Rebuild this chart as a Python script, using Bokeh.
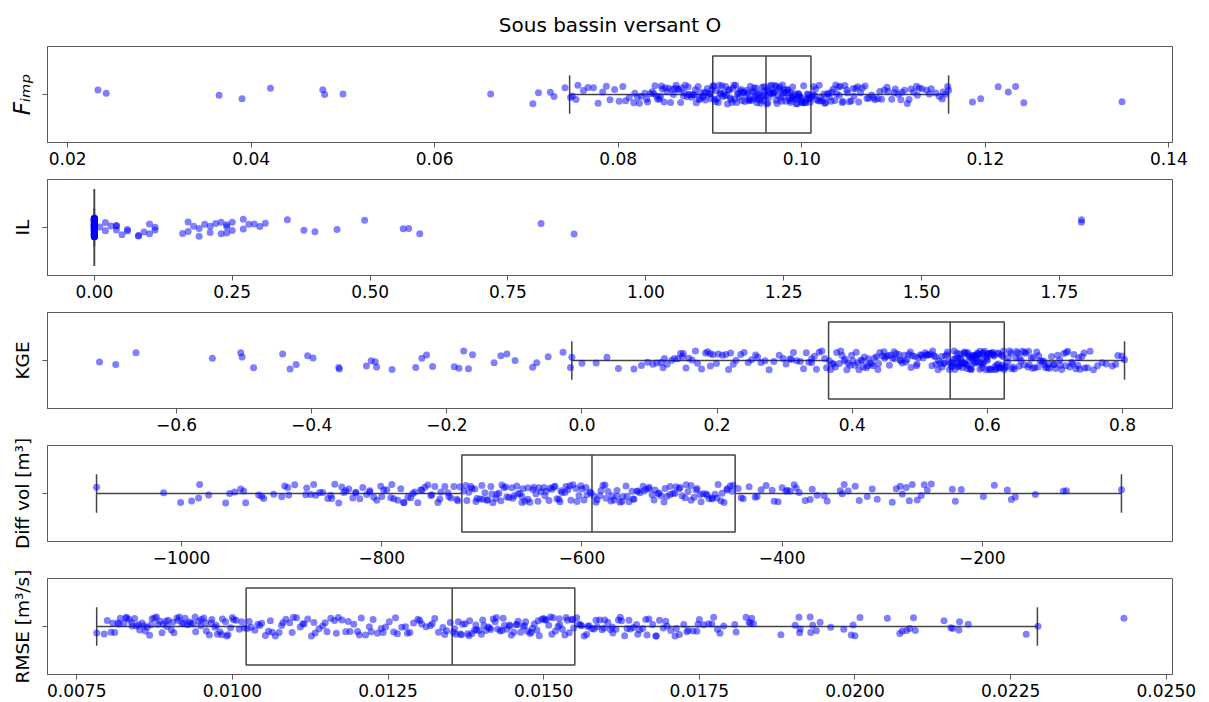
import math
from bokeh.plotting import figure
from bokeh.layouts import column
from bokeh.models import Range1d, FixedTicker, CustomJSTickFormatter, ColumnDataSource
from bokeh.embed import file_html
from bokeh.resources import INLINE

# ---------------- data ----------------
title_text = "Sous bassin versant O"
panel_labels = ["Fᵢₘₚ", "IL", "KGE", "Diff vol [m³]", "RMSE [m³/s]"]

f_imp = [
    0.0233, 0.0242, 0.0365, 0.0390, 0.0421, 0.0478, 0.0480, 0.0500, 0.0661, 0.0707, 0.0713, 0.0726, 0.0730, 0.0742,
    0.0748, 0.0750, 0.0754, 0.0756, 0.0762, 0.0767, 0.0773, 0.0778, 0.0783, 0.0787, 0.0791, 0.0796, 0.0801, 0.0805,
    0.0808, 0.0812, 0.0818, 0.0821, 0.0825, 0.0829, 0.0832, 0.0837, 0.0840, 0.0843, 0.0845, 0.0848, 0.0851, 0.0853,
    0.0857, 0.0860, 0.0862, 0.0866, 0.0868, 0.0871, 0.0873, 0.0876, 0.0878, 0.0880, 0.0883, 0.0885, 0.0887, 0.0889,
    0.0892, 0.0894, 0.0896, 0.0899, 0.0901,
    0.0903, 0.0904, 0.0906, 0.0907, 0.0909, 0.0910, 0.0912, 0.0914, 0.0915, 0.0916, 0.0918, 0.0919, 0.0921, 0.0922,
    0.0923, 0.0925, 0.0926, 0.0927, 0.0929, 0.0930, 0.0932, 0.0933, 0.0934, 0.0936, 0.0937, 0.0938, 0.0939, 0.0941,
    0.0942, 0.0943, 0.0944, 0.0946, 0.0947, 0.0948, 0.0949, 0.0950, 0.0951, 0.0952, 0.0954, 0.0955, 0.0956, 0.0957,
    0.0958, 0.0959, 0.0960,
    0.0962, 0.0963, 0.0964, 0.0965, 0.0966, 0.0968, 0.0969, 0.0970, 0.0971, 0.0972, 0.0973, 0.0975, 0.0976, 0.0977,
    0.0978, 0.0979, 0.0980, 0.0981, 0.0982, 0.0984, 0.0985, 0.0986, 0.0987, 0.0988, 0.0989, 0.0990, 0.0991, 0.0993,
    0.0994, 0.0995, 0.0996, 0.0997, 0.0998, 0.0999, 0.1000, 0.1001, 0.1002, 0.1004, 0.1005, 0.1006, 0.1007, 0.1008,
    0.1009,
    0.1011, 0.1013, 0.1014, 0.1016, 0.1018, 0.1019, 0.1021, 0.1023, 0.1024, 0.1026, 0.1028, 0.1030, 0.1032, 0.1034,
    0.1036, 0.1038, 0.1040, 0.1042, 0.1045, 0.1047, 0.1049, 0.1052, 0.1054, 0.1057, 0.1059, 0.1062, 0.1066, 0.1069,
    0.1073, 0.1076, 0.1080, 0.1083, 0.1087, 0.1090, 0.1094, 0.1098, 0.1102, 0.1105, 0.1109, 0.1112, 0.1115, 0.1119,
    0.1122, 0.1125, 0.1128, 0.1131, 0.1136, 0.1141, 0.1146, 0.1150, 0.1154, 0.1157, 0.1159, 0.1160,
    0.1186, 0.1195, 0.1214, 0.1225, 0.1233, 0.1242, 0.1349,
]
f_imp_more = [
    0.0817, 0.0823, 0.0831, 0.0835, 0.0839, 0.0842, 0.0846, 0.0847, 0.0850, 0.0855, 0.0859, 0.0863, 0.0865, 0.0869,
    0.0872, 0.0875, 0.0877, 0.0882, 0.0884, 0.0888, 0.0890, 0.0893, 0.0895, 0.0897, 0.0900, 0.0902, 0.0905, 0.0908,
    0.0911, 0.0913, 0.0917, 0.0920, 0.0924, 0.0928, 0.0931, 0.0935, 0.0940, 0.0943, 0.0945, 0.0948, 0.0951, 0.0953,
    0.0955, 0.0958, 0.0961, 0.0962, 0.0964, 0.0967, 0.0969, 0.0972, 0.0974, 0.0977, 0.0980, 0.0983, 0.0985, 0.0988,
    0.0990, 0.0992, 0.0995, 0.0997, 0.1000, 0.1003, 0.1006, 0.1009, 0.1012, 0.1015, 0.1020, 0.1025, 0.1029, 0.1033,
    0.1037, 0.1041, 0.1044, 0.1050, 0.1056, 0.1061, 0.1064, 0.1071, 0.1078, 0.1085, 0.1093, 0.1101, 0.1108, 0.1117,
    0.1126, 0.1139, 0.1153,
]

il_values = [0.0] * 120 + [
    0.01, 0.02, 0.02, 0.03, 0.04, 0.04, 0.04, 0.05, 0.06, 0.06, 0.08, 0.08, 0.09, 0.10, 0.10, 0.11, 0.11,
    0.16, 0.17, 0.17, 0.18, 0.19, 0.19, 0.20, 0.21, 0.21, 0.22, 0.23, 0.23, 0.24, 0.24, 0.24, 0.25, 0.25,
    0.27, 0.27, 0.28, 0.29, 0.30, 0.31, 0.35, 0.38, 0.40, 0.44, 0.49, 0.56, 0.57, 0.59, 0.81, 0.87, 1.79, 1.79,
]

kge = [
    -0.714, -0.690, -0.660, -0.547, -0.505, -0.503, -0.486, -0.443, -0.432, -0.423, -0.406, -0.398, -0.360, -0.359,
    -0.319, -0.312, -0.306, -0.304, -0.281, -0.246, -0.237, -0.230, -0.221, -0.189, -0.182, -0.175, -0.168, -0.162,
    -0.130, -0.120, -0.111, -0.099, -0.073, -0.067, -0.050, -0.028, -0.017,
    -0.015, 0.000, 0.021, 0.037, 0.054, 0.077, 0.088, 0.097, 0.105, 0.111, 0.117, 0.122, 0.126, 0.133, 0.137, 0.142,
    0.146, 0.149, 0.154, 0.158, 0.163, 0.168, 0.171, 0.177, 0.183, 0.186, 0.190, 0.194, 0.199, 0.202, 0.208, 0.213,
    0.217, 0.224, 0.228, 0.235, 0.240, 0.246, 0.251, 0.257, 0.265, 0.271, 0.277, 0.284, 0.292, 0.298, 0.302, 0.308,
    0.313, 0.318, 0.323, 0.328, 0.332, 0.336, 0.340, 0.344, 0.347, 0.351, 0.355, 0.359, 0.362,
    0.366, 0.368, 0.371, 0.375, 0.377, 0.381, 0.385, 0.388, 0.390, 0.394, 0.397, 0.401, 0.404, 0.406, 0.410, 0.413,
    0.415, 0.418, 0.421, 0.424, 0.426, 0.429, 0.433, 0.436, 0.438, 0.441, 0.445, 0.448, 0.450, 0.453, 0.457, 0.460,
    0.462, 0.465, 0.469, 0.472, 0.474, 0.477, 0.481, 0.484, 0.486, 0.489, 0.493, 0.496, 0.498, 0.501, 0.505, 0.508,
    0.510, 0.513, 0.516, 0.519, 0.521, 0.524, 0.527, 0.530, 0.532, 0.535, 0.538, 0.540, 0.543,
    0.546, 0.547, 0.549, 0.550, 0.551, 0.553, 0.554, 0.556, 0.557, 0.558, 0.559, 0.561, 0.562, 0.563, 0.565, 0.566,
    0.567, 0.568, 0.570, 0.571, 0.572, 0.574, 0.575, 0.576, 0.577, 0.579, 0.580, 0.581, 0.582, 0.584, 0.585, 0.586,
    0.588, 0.589, 0.590, 0.591, 0.593, 0.594, 0.595, 0.596, 0.598, 0.599, 0.600, 0.602, 0.603, 0.604, 0.606, 0.607,
    0.608, 0.610, 0.611, 0.613, 0.614, 0.616, 0.617, 0.619, 0.620, 0.622, 0.623, 0.624,
    0.626, 0.628, 0.631, 0.633, 0.635, 0.638, 0.640, 0.643, 0.645, 0.647, 0.650, 0.652, 0.655, 0.657, 0.660, 0.662,
    0.665, 0.667, 0.670, 0.673, 0.675, 0.678, 0.681, 0.684, 0.686, 0.689, 0.692, 0.695, 0.698, 0.701, 0.704, 0.707,
    0.710, 0.713, 0.716, 0.719, 0.722, 0.725, 0.728, 0.731, 0.734, 0.737, 0.740, 0.744, 0.748, 0.752, 0.757, 0.763,
    0.770, 0.776, 0.785, 0.790, 0.793, 0.799, 0.803,
]
kge_more = [
    0.372, 0.383, 0.392, 0.399, 0.408, 0.416, 0.423, 0.431, 0.439, 0.447, 0.455, 0.463, 0.471, 0.479, 0.487, 0.495,
    0.503, 0.511, 0.518, 0.523, 0.528, 0.533, 0.537, 0.541, 0.544, 0.548, 0.552, 0.555, 0.558, 0.560, 0.563, 0.566,
    0.569, 0.571, 0.573, 0.576, 0.578, 0.580, 0.583, 0.585, 0.587, 0.589, 0.592, 0.594, 0.596, 0.599, 0.601, 0.604,
    0.606, 0.609, 0.612, 0.615, 0.618, 0.621, 0.625, 0.630, 0.636, 0.642, 0.648, 0.654, 0.661, 0.668, 0.676, 0.683,
    0.691, 0.699, 0.708, 0.717, 0.726, 0.735, 0.743, 0.120, 0.150, 0.190, 0.220, 0.260, 0.310, 0.340,
]

diff_vol = [
    -1085, -1018, -1001, -990, -983, -982, -973, -956, -952, -947, -941, -938, -936, -923, -920, -918, -908, -900,
    -897, -894, -893, -887, -876, -875, -871, -868, -866, -862, -859, -854, -851, -847, -843, -840, -836, -833, -829,
    -826, -822, -819, -815, -812, -808, -805, -801, -798, -795, -791, -788, -784, -781, -778, -774, -771, -767, -764,
    -761, -757, -754, -750, -747, -744, -741, -737, -734, -731, -728, -725, -722,
    -718, -715, -713, -710, -707, -705, -702, -699, -697, -694, -691, -689, -686, -683, -681, -678, -676, -673, -670,
    -668, -665, -662, -660, -657, -654, -652, -649, -646, -644, -641, -638, -636, -633, -630, -628, -625, -622, -620,
    -617, -614, -612, -609, -606, -603, -601, -598, -595, -592,
    -588, -585, -582, -579, -577, -574, -571, -568, -565, -562, -559, -556, -553, -550, -548, -545, -542, -539, -536,
    -533, -530, -527, -524, -521, -518, -515, -512, -509, -506, -503, -500, -497, -494, -491, -488, -485, -482, -479,
    -476, -473, -470, -467, -464, -461, -458, -455, -452, -449,
    -444, -439, -433, -427, -421, -416, -410, -404, -400, -396, -392, -388, -383, -377, -370, -365, -358, -342, -338,
    -334, -327, -323, -315, -305, -290, -282, -280, -273, -270, -261, -258, -251, -230, -227, -221, -199, -188, -175,
    -171, -167, -147, -119, -116, -61,
]
diff_vol_more = [
    -778, -769, -760, -751, -742, -733, -724, -716, -711, -706, -700, -695, -690, -685, -680, -675, -669, -664, -659,
    -654, -648, -643, -637, -632, -627, -621, -616, -611, -605, -600, -596, -591, -586, -581, -576, -570, -565, -560,
    -555, -549, -544, -538, -533, -528, -523, -517, -512, -507, -502, -496, -491, -486, -481, -475, -470, -465, -460,
    -455, -450, -441, -425, -408, -395, -386, -372, -355, -340, -310, -286, -276, -265, -255, -850, -838, -826, -812,
    -800, -790, -660, -623,
]

rmse = [
    0.00782, 0.00794, 0.00799, 0.00805, 0.00811, 0.00816, 0.00820, 0.00826, 0.00830, 0.00834, 0.00839, 0.00843,
    0.00846, 0.00851, 0.00855, 0.00858, 0.00863, 0.00867, 0.00871, 0.00875, 0.00880, 0.00884, 0.00889, 0.00893,
    0.00897, 0.00902, 0.00906, 0.00911, 0.00915, 0.00919, 0.00924, 0.00928, 0.00933, 0.00937, 0.00941, 0.00946,
    0.00950, 0.00954, 0.00958, 0.00963, 0.00967, 0.00972, 0.00976, 0.00980, 0.00984, 0.00989, 0.00993, 0.00997,
    0.01002, 0.01006, 0.01011, 0.01015, 0.01019,
    0.01024, 0.01030, 0.01036, 0.01041, 0.01047, 0.01053, 0.01058, 0.01064, 0.01069, 0.01075, 0.01081, 0.01086,
    0.01092, 0.01098, 0.01103, 0.01109, 0.01115, 0.01121, 0.01127, 0.01133, 0.01139, 0.01145, 0.01152, 0.01158,
    0.01164, 0.01170, 0.01176, 0.01182, 0.01189, 0.01195, 0.01201, 0.01207, 0.01214, 0.01220, 0.01226, 0.01233,
    0.01239, 0.01246, 0.01252, 0.01259, 0.01265, 0.01272, 0.01278, 0.01285, 0.01291, 0.01298, 0.01304, 0.01311,
    0.01318, 0.01325, 0.01331, 0.01338, 0.01344, 0.01350,
    0.01355, 0.01359, 0.01363, 0.01366, 0.01370, 0.01374, 0.01378, 0.01381, 0.01385, 0.01389, 0.01392, 0.01396,
    0.01400, 0.01404, 0.01407, 0.01411, 0.01415, 0.01419, 0.01422, 0.01426, 0.01430, 0.01433, 0.01437, 0.01441,
    0.01445, 0.01448, 0.01452, 0.01456, 0.01459, 0.01463, 0.01467, 0.01471, 0.01474, 0.01478, 0.01482, 0.01485,
    0.01489, 0.01493, 0.01497, 0.01500, 0.01504, 0.01508, 0.01511, 0.01515, 0.01519, 0.01523, 0.01526, 0.01530,
    0.01534, 0.01538, 0.01541, 0.01545, 0.01548,
    0.01553, 0.01557, 0.01561, 0.01565, 0.01569, 0.01573, 0.01577, 0.01581, 0.01586, 0.01590, 0.01594, 0.01598,
    0.01603, 0.01607, 0.01611, 0.01616, 0.01620, 0.01625, 0.01630, 0.01634, 0.01639, 0.01644, 0.01649, 0.01654,
    0.01659, 0.01664, 0.01669, 0.01675, 0.01680, 0.01686, 0.01692, 0.01698, 0.01704, 0.01711, 0.01718, 0.01725,
    0.01732, 0.01740, 0.01746, 0.01750, 0.01757, 0.01765, 0.01770, 0.01773, 0.01779, 0.01783, 0.01789, 0.01807,
    0.01809, 0.01825, 0.01830, 0.01832, 0.01834, 0.01837, 0.01881, 0.01904, 0.01910, 0.01911, 0.01912, 0.01928,
    0.01929, 0.01932, 0.01938, 0.01944, 0.01961, 0.01982, 0.01994, 0.01997, 0.02000, 0.02008, 0.02052, 0.02072,
    0.02076, 0.02083, 0.02088, 0.02094, 0.02097, 0.02143, 0.02154, 0.02157, 0.02167, 0.02168, 0.02182, 0.02275,
    0.02294, 0.02432,
]
rmse_more = [
    0.00808, 0.00818, 0.00829, 0.00838, 0.00849, 0.00860, 0.00869, 0.00878, 0.00887, 0.00895, 0.00904, 0.00913,
    0.00922, 0.00931, 0.00940, 0.00949, 0.00957, 0.00966, 0.00974, 0.00983, 0.00991, 0.01000, 0.01027, 0.01044,
    0.01061, 0.01079, 0.01096, 0.01113, 0.01131, 0.01149, 0.01167, 0.01186, 0.01204, 0.01223, 0.01242, 0.01262,
    0.01281, 0.01301, 0.01321, 0.01341, 0.01357, 0.01368, 0.01380, 0.01391, 0.01402, 0.01413, 0.01424, 0.01435,
    0.01446, 0.01457, 0.01469, 0.01480, 0.01491, 0.01502, 0.01513, 0.01525, 0.01536, 0.01547, 0.01559, 0.01571,
    0.01584, 0.01597, 0.01610, 0.01623, 0.01637, 0.01651, 0.01666, 0.01681, 0.01696, 0.01713, 0.01730, 0.01748,
]

# box statistics (per panel)
box_whisker_lo = [0.0747, 0.0, -0.015, -1085, 0.00782]
box_q1 = [0.0903, 0.0, 0.365, -720, 0.01022]
box_median = [0.0961, 0.0, 0.545, -590, 0.01353]
box_q3 = [0.1010, 0.0, 0.625, -447, 0.01550]
box_whisker_hi = [0.1160, 0.0, 0.803, -61, 0.02293]

# axis ticks
f_imp_ticks = [0.02, 0.04, 0.06, 0.08, 0.10, 0.12, 0.14]
il_ticks = [0.0, 0.25, 0.5, 0.75, 1.0, 1.25, 1.5, 1.75]
kge_ticks = [-0.6, -0.4, -0.2, 0.0, 0.2, 0.4, 0.6, 0.8]
diff_vol_ticks = [-1000, -800, -600, -400, -200]
rmse_ticks = [0.0075, 0.0100, 0.0125, 0.0150, 0.0175, 0.0200, 0.0225, 0.0250]

# ---------------- layout / style ----------------
FONT = "DejaVu Sans"
POINT_COLOR = "#0000ff"
BOX_COLOR = "#444444"
FRAME_COLOR = "#5a5a5a"

x_ranges = [(0.0178, 0.1404), (-0.085, 1.955), (-0.791, 0.874), (-1134, -10), (0.00703, 0.02510)]
decimals = [2, 2, 1, 0, 4]
series = [f_imp + f_imp_more, il_values, kge + kge_more, diff_vol + diff_vol_more, rmse + rmse_more]
ticks = [f_imp_ticks, il_ticks, kge_ticks, diff_vol_ticks, rmse_ticks]


def jitter(n, seed):
    out = []
    for i in range(n):
        v = math.sin((i + 1) * 12.9898 + seed * 78.233) * 43758.5453
        out.append((v - math.floor(v) - 0.5) * 0.2)
    return out


figs = []
for k in range(5):
    first = k == 0
    last = k == 4
    p = figure(
        frame_width=1125, frame_height=96,
        x_range=Range1d(*x_ranges[k]), y_range=Range1d(-0.5, 0.5),
        output_backend="svg", toolbar_location=None,
        min_border_left=47, min_border_right=30,
        min_border_top=46 if first else 9, min_border_bottom=0 if last else 28,
        title=title_text if first else None,
    )
    if first:
        p.title.align = "center"
        p.title.text_font = FONT
        p.title.text_font_size = "20px"
        p.title.text_font_style = "normal"
        p.title.text_color = "#000000"
        p.title.standoff = 20
    p.xgrid.visible = False
    p.ygrid.visible = False
    p.outline_line_color = FRAME_COLOR
    p.outline_line_width = 1
    p.background_fill_color = "white"
    p.border_fill_color = "white"

    xa = p.xaxis[0]
    xa.ticker = FixedTicker(ticks=ticks[k])
    d = decimals[k]
    xa.formatter = CustomJSTickFormatter(code="return tick.toFixed(%d).replace('-', '\u2212');" % d)
    xa.major_label_text_font = FONT
    xa.major_label_text_font_size = "17px"
    xa.major_label_text_color = "#000000"
    xa.major_label_standoff = 4
    xa.major_tick_out = 5
    xa.major_tick_in = 0
    xa.minor_tick_line_color = None
    xa.axis_line_color = FRAME_COLOR
    xa.major_tick_line_color = FRAME_COLOR

    ya = p.yaxis[0]
    ya.ticker = FixedTicker(ticks=[0])
    ya.major_label_overrides = {0: ""}
    ya.major_label_standoff = 0
    ya.major_tick_out = 5
    ya.major_tick_in = 0
    ya.minor_tick_line_color = None
    ya.axis_line_color = FRAME_COLOR
    ya.major_tick_line_color = FRAME_COLOR
    ya.axis_label = panel_labels[k]
    ya.axis_label_text_font = FONT
    ya.axis_label_text_font_size = "23px" if first else "18.5px"
    ya.axis_label_text_font_style = "italic" if first else "normal"
    ya.axis_label_text_color = "#000000"
    ya.axis_label_standoff = 8 if first else 10

    # box
    box_src = ColumnDataSource(dict(
        q1=[box_q1[k]], q3=[box_q3[k]], med=[box_median[k]],
        wlo=[box_whisker_lo[k]], whi=[box_whisker_hi[k]],
    ))
    p.quad(left="q1", right="q3", bottom=-0.4, top=0.4, source=box_src,
           fill_alpha=0, line_color=BOX_COLOR, line_width=1.5)
    p.segment(x0="med", y0=-0.4, x1="med", y1=0.4, source=box_src, line_color=BOX_COLOR, line_width=1.5)
    p.segment(x0="wlo", y0=0, x1="q1", y1=0, source=box_src, line_color=BOX_COLOR, line_width=1.5)
    p.segment(x0="q3", y0=0, x1="whi", y1=0, source=box_src, line_color=BOX_COLOR, line_width=1.5)
    p.segment(x0="wlo", y0=-0.2, x1="wlo", y1=0.2, source=box_src, line_color=BOX_COLOR, line_width=1.5)
    p.segment(x0="whi", y0=-0.2, x1="whi", y1=0.2, source=box_src, line_color=BOX_COLOR, line_width=1.5)

    # strip points
    vals = series[k]
    pts = ColumnDataSource(dict(x=vals, y=jitter(len(vals), k + 1)))
    p.scatter(x="x", y="y", source=pts, size=7, fill_color=POINT_COLOR, fill_alpha=0.5, line_color=None)

    figs.append(p)

layout = column(*figs, spacing=0)
open("out.html", "w").write(file_html(layout, INLINE))
